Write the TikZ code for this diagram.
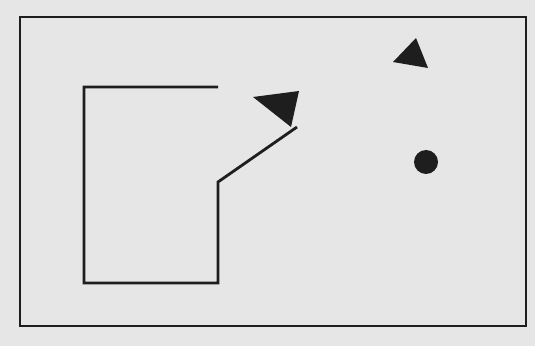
\documentclass[tikz,border=0pt]{standalone}
\definecolor{paper}{HTML}{E6E6E6}
\definecolor{ink}{HTML}{1E1E1E}
\tikzset{
    frame/.style={draw=ink, line width=1.6pt},
    wall/.style={draw=ink, line width=2.4pt, line join=miter},
    marker/.style={fill=ink}
}
\begin{document}
\begin{tikzpicture}[x=0.03cm, y=-0.03cm]
\fill[paper] (0,0) rectangle (535,346);
\useasboundingbox (0,0) rectangle (535,346);
% outer border
\draw[frame] (20,17) rectangle (526,326);
% open room outline
\draw[wall] (218,87) -- (84,87) -- (84,283) -- (218,283) -- (218,182) -- (297,127);
% pointers and dot
\fill[marker] (253,97) -- (299,91) -- (291,127) -- cycle;
\fill[marker] (393,62) -- (416,38) -- (428,68) -- cycle;
\fill[marker] (426,162) circle (12);
\end{tikzpicture}
\end{document}
